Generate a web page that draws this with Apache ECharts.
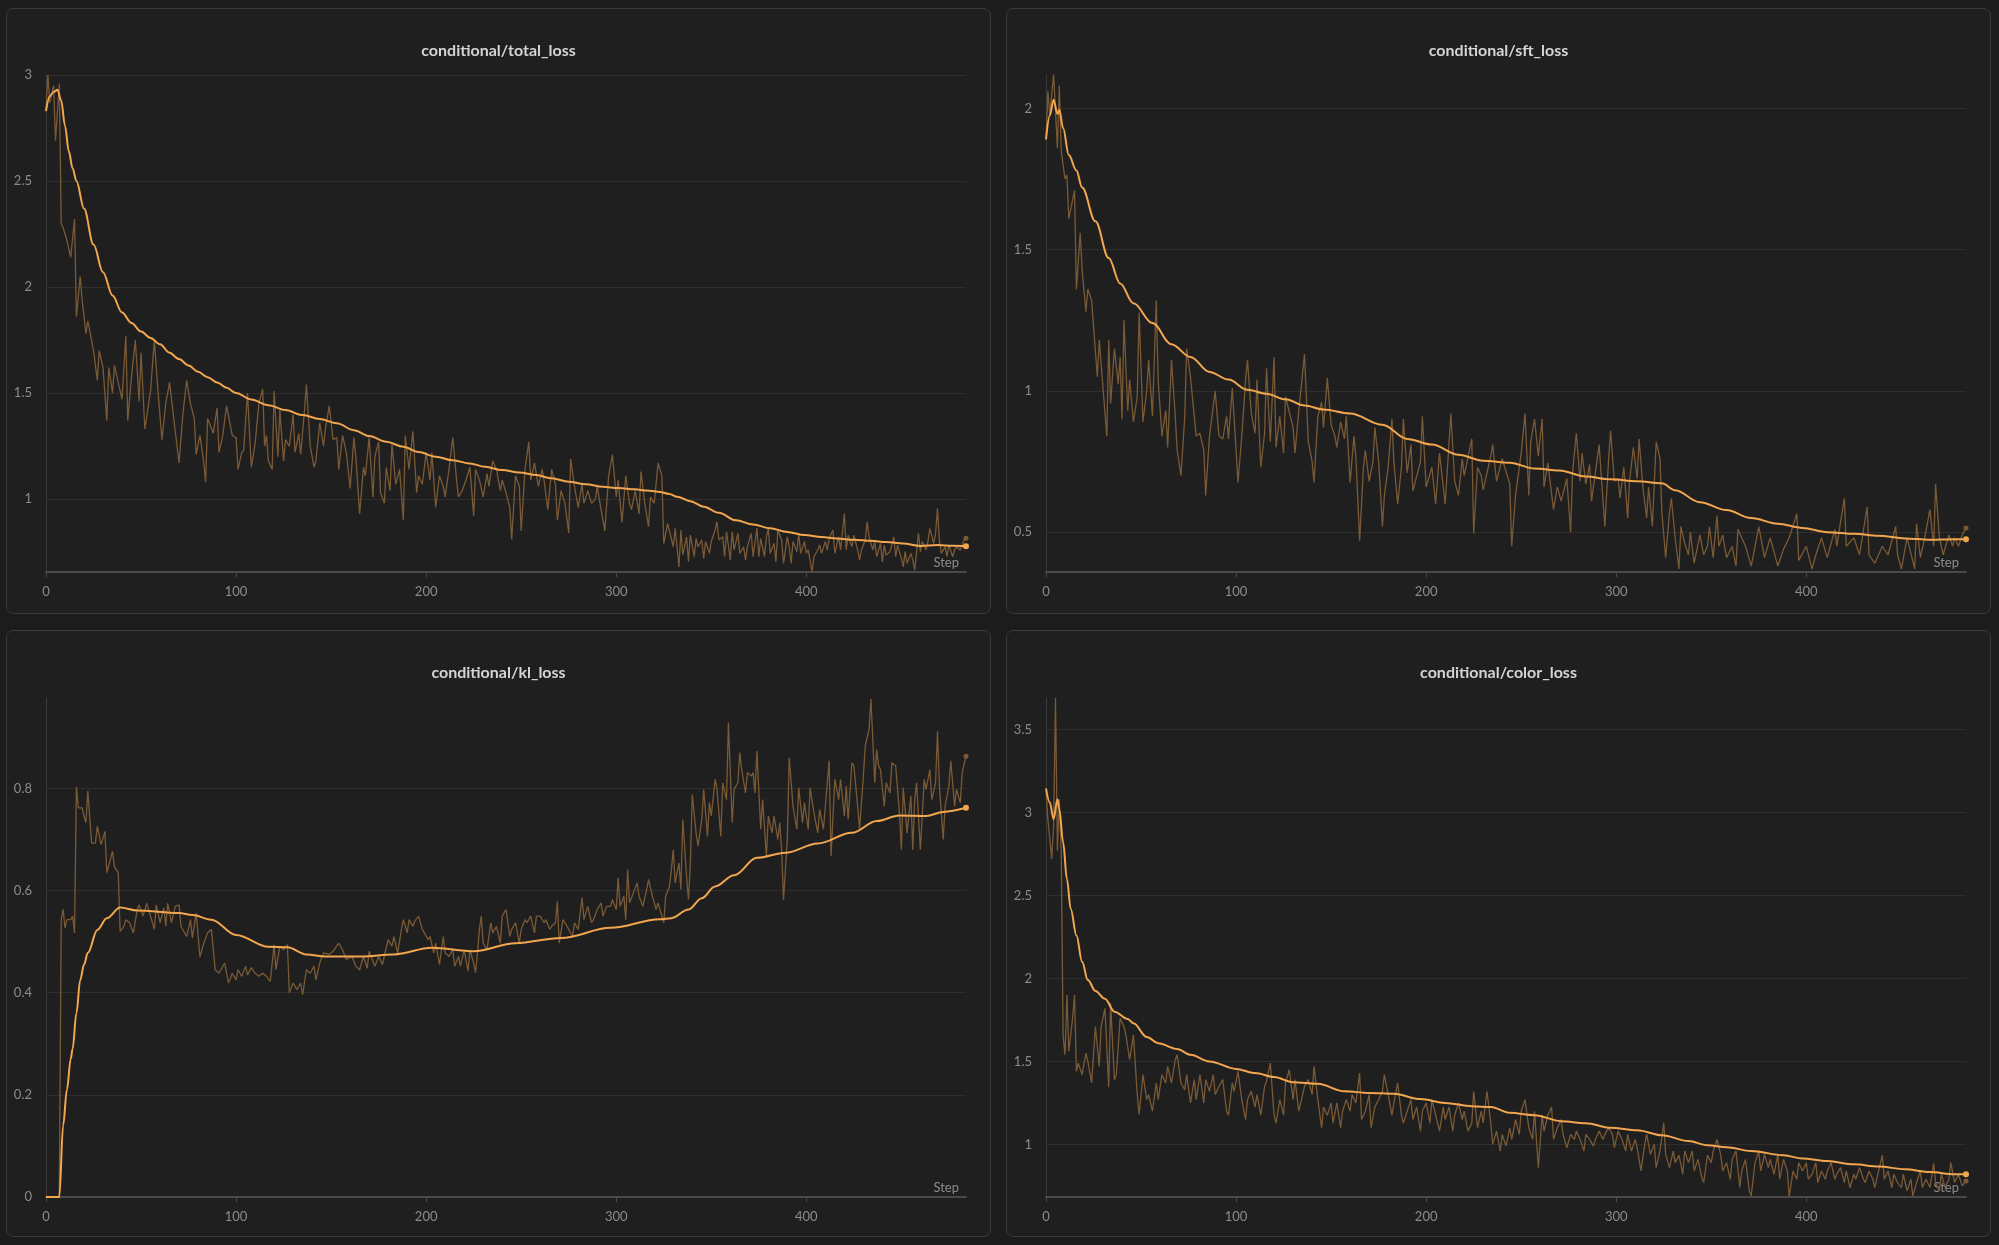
<!DOCTYPE html>
<html>
<head>
<meta charset="utf-8">
<script src="https://cdn.jsdelivr.net/npm/echarts@6/dist/echarts.min.js"></script>
<style>
  html, body { margin: 0; padding: 0; background: #1c1c1c; width: 1999px; height: 1245px; overflow: hidden; }
  .panel { position: absolute; box-sizing: border-box; border: 1px solid #3a3a3a; border-radius: 7px; background: #1f1f1f; }
</style>
</head>
<body>
<div id="p0" class="panel" style="left:6px;top:8px;width:985px;height:606px"></div>
<div id="p1" class="panel" style="left:1006px;top:8px;width:985px;height:606px"></div>
<div id="p2" class="panel" style="left:6px;top:630px;width:985px;height:607px"></div>
<div id="p3" class="panel" style="left:1006px;top:630px;width:985px;height:607px"></div>
<script>
// x axis ticks (Step)
const xTicks = [0, 100, 200, 300, 400]
const lastStep = 484

// conditional/total_loss  [step, value]
const totalRaw = [[0,2.84],[1,3.0],[2,2.87],[4,2.95],[5,2.69],[7,2.96],[8,2.30],[9,2.28],[11,2.22],[13,2.14],[15,2.32],[16,1.86],[18,2.05],[19,1.94],[21,1.78],[22,1.84],[25,1.70],[27,1.56],[28,1.70],[30,1.62],[32,1.37],[33,1.62],[35,1.50],[36,1.63],[38,1.55],[40,1.47],[42,1.77],[43,1.37],[45,1.58],[47,1.75],[49,1.46],[50,1.69],[52,1.33],[55,1.51],[57,1.75],[59,1.50],[61,1.28],[63,1.45],[65,1.55],[68,1.32],[70,1.17],[72,1.40],[74,1.56],[76,1.45],[78,1.38],[79,1.21],[81,1.30],[83,1.17],[84,1.08],[85,1.38],[88,1.31],[90,1.43],[91,1.22],[93,1.30],[95,1.44],[98,1.30],[100,1.29],[101,1.14],[103,1.22],[104,1.23],[106,1.50],[108,1.15],[110,1.26],[112,1.45],[114,1.52],[115,1.25],[116,1.30],[117,1.18],[119,1.14],[120,1.51],[122,1.20],[123,1.42],[125,1.18],[126,1.28],[128,1.25],[130,1.40],[131,1.22],[133,1.31],[134,1.21],[136,1.42],[137,1.54],[139,1.25],[141,1.15],[142,1.18],[144,1.36],[146,1.25],[147,1.33],[149,1.44],[151,1.28],[153,1.29],[154,1.14],[156,1.30],[158,1.22],[160,1.05],[162,1.29],[163,1.20],[165,0.93],[167,1.15],[168,1.11],[170,1.29],[172,1.01],[173,1.20],[175,1.27],[176,1.03],[178,0.98],[179,1.15],[181,1.04],[182,1.26],[184,1.07],[186,1.14],[188,0.90],[189,1.30],[191,1.14],[193,1.32],[195,1.03],[196,1.11],[198,1.07],[200,1.22],[202,1.09],[203,1.22],[205,0.96],[207,1.11],[209,1.06],[210,1.01],[212,1.14],[214,1.29],[216,1.09],[217,1.01],[219,1.04],[221,1.09],[223,1.15],[225,0.92],[226,1.14],[228,1.09],[230,1.01],[232,1.12],[233,1.06],[235,1.18],[237,1.14],[239,1.04],[240,1.09],[242,1.03],[244,0.96],[245,0.81],[247,1.11],[249,1.06],[250,0.85],[252,1.14],[254,1.27],[255,1.09],[257,1.17],[259,1.06],[261,1.14],[262,1.09],[264,0.95],[266,1.14],[268,1.07],[269,0.90],[271,1.04],[273,0.98],[275,0.84],[276,1.19],[278,1.06],[280,0.96],[282,1.07],[283,0.98],[285,1.04],[287,0.98],[289,1.00],[290,1.06],[292,0.95],[294,0.85],[296,1.11],[298,1.21],[300,1.01],[301,1.09],[303,0.89],[305,1.11],[307,0.98],[308,0.95],[310,1.04],[312,0.93],[313,1.13],[315,0.98],[317,0.87],[318,1.01],[320,0.98],[322,1.17],[324,1.11],[325,0.79],[327,0.885],[330,0.775],[331,0.862],[333,0.68],[334,0.854],[335,0.736],[337,0.822],[338,0.704],[339,0.83],[341,0.728],[342,0.814],[343,0.775],[345,0.807],[346,0.72],[347,0.80],[349,0.744],[350,0.80],[352,0.854],[353,0.893],[354,0.807],[356,0.822],[357,0.728],[358,0.846],[360,0.712],[361,0.846],[362,0.76],[364,0.838],[365,0.744],[367,0.775],[368,0.712],[369,0.775],[371,0.838],[372,0.728],[374,0.862],[375,0.728],[376,0.814],[378,0.728],[379,0.822],[380,0.862],[381,0.744],[383,0.791],[384,0.704],[385,0.854],[387,0.807],[388,0.697],[390,0.822],[391,0.775],[392,0.697],[393,0.80],[395,0.752],[396,0.838],[397,0.744],[399,0.80],[400,0.744],[401,0.76],[403,0.657],[404,0.728],[406,0.76],[407,0.783],[408,0.744],[410,0.80],[411,0.76],[412,0.814],[414,0.854],[415,0.744],[417,0.822],[418,0.76],[420,0.932],[421,0.76],[422,0.83],[424,0.775],[425,0.83],[427,0.76],[428,0.712],[429,0.76],[431,0.807],[432,0.893],[433,0.822],[435,0.76],[436,0.80],[437,0.728],[439,0.791],[440,0.704],[441,0.783],[442,0.736],[444,0.752],[446,0.822],[447,0.728],[448,0.783],[450,0.72],[451,0.68],[452,0.752],[453,0.697],[455,0.744],[456,0.712],[457,0.665],[459,0.838],[460,0.752],[461,0.80],[463,0.76],[464,0.80],[465,0.862],[467,0.791],[468,0.838],[469,0.956],[470,0.807],[471,0.744],[473,0.775],[474,0.728],[475,0.783],[477,0.728],[478,0.76],[479,0.775],[481,0.76],[482,0.783],[483,0.807],[484,0.815]]
const totalSmooth = [[0,2.83],[2,2.9],[4,2.92],[6,2.93],[8,2.88],[10,2.76],[12,2.64],[14,2.56],[16,2.5],[20,2.37],[25,2.2],[30,2.07],[35,1.96],[40,1.88],[45,1.83],[50,1.79],[55,1.76],[60,1.73],[65,1.69],[70,1.66],[75,1.63],[80,1.6],[85,1.575],[90,1.55],[95,1.525],[100,1.5],[108,1.47],[117,1.443],[126,1.42],[135,1.396],[144,1.378],[153,1.357],[162,1.325],[170,1.297],[179,1.27],[188,1.247],[196,1.222],[205,1.2],[214,1.183],[223,1.168],[231,1.152],[240,1.137],[249,1.125],[258,1.113],[266,1.098],[275,1.082],[284,1.07],[293,1.058],[301,1.052],[310,1.046],[316,1.04],[322,1.035],[328,1.024],[332,1.011],[339,0.99],[346,0.964],[354,0.935],[363,0.90],[372,0.88],[381,0.862],[390,0.845],[399,0.83],[408,0.821],[416,0.814],[425,0.808],[434,0.803],[442,0.797],[451,0.79],[460,0.779],[469,0.783],[477,0.78],[484,0.778]]

// conditional/sft_loss
const sftRaw = [[0,1.89],[1,2.06],[2,1.975],[4,2.12],[5,1.99],[6,1.86],[7,2.08],[8,1.85],[10,1.75],[11,1.765],[12,1.61],[15,1.71],[16,1.36],[18,1.56],[19,1.43],[21,1.28],[22,1.36],[24,1.32],[26,1.14],[27,1.05],[28,1.18],[30,1.01],[32,0.84],[33,1.18],[34,0.955],[36,1.15],[38,1.025],[39,1.12],[40,0.90],[41,1.25],[43,0.93],[44,1.04],[46,0.89],[48,0.98],[49,1.277],[51,0.89],[53,1.0],[54,1.11],[56,0.91],[58,1.32],[59,1.04],[61,0.84],[63,0.93],[64,0.80],[66,1.11],[68,0.91],[69,0.79],[71,0.70],[73,0.91],[74,1.15],[76,1.05],[78,0.91],[79,0.84],[81,0.85],[83,0.79],[84,0.63],[86,0.84],[89,1.0],[91,0.84],[93,0.83],[95,0.91],[96,0.83],[98,1.01],[100,0.79],[101,0.675],[103,0.84],[105,1.04],[106,1.11],[108,0.92],[110,0.85],[111,1.04],[113,0.73],[115,0.85],[116,1.08],[118,0.82],[120,1.12],[121,0.80],[123,0.91],[125,0.78],[126,0.98],[130,0.87],[131,0.78],[133,0.93],[136,1.13],[138,0.82],[140,0.75],[141,0.675],[143,0.91],[145,0.96],[146,0.87],[148,1.046],[150,0.88],[152,0.84],[153,0.80],[155,0.89],[157,0.83],[158,0.91],[160,0.675],[162,0.84],[163,0.77],[165,0.47],[167,0.73],[168,0.79],[170,0.68],[172,0.75],[173,0.87],[175,0.75],[177,0.52],[178,0.63],[180,0.73],[182,0.90],[183,0.75],[185,0.60],[187,0.73],[188,0.90],[190,0.71],[192,0.81],[193,0.645],[197,0.75],[198,0.91],[200,0.66],[203,0.73],[205,0.60],[207,0.78],[210,0.60],[213,0.92],[215,0.68],[217,0.63],[219,0.76],[220,0.70],[224,0.83],[225,0.495],[227,0.73],[229,0.70],[230,0.65],[234,0.77],[235,0.81],[237,0.68],[240,0.76],[244,0.67],[245,0.45],[247,0.63],[250,0.78],[252,0.92],[254,0.63],[255,0.82],[257,0.90],[259,0.77],[261,0.90],[262,0.66],[264,0.745],[267,0.58],[269,0.66],[271,0.61],[274,0.69],[276,0.50],[277,0.71],[279,0.85],[281,0.68],[282,0.78],[284,0.67],[286,0.74],[287,0.61],[289,0.71],[291,0.81],[292,0.71],[294,0.52],[296,0.76],[297,0.86],[299,0.68],[301,0.69],[302,0.62],[304,0.73],[306,0.55],[307,0.68],[309,0.80],[311,0.69],[312,0.83],[314,0.66],[316,0.55],[317,0.66],[319,0.52],[321,0.82],[323,0.76],[324,0.57],[326,0.41],[328,0.57],[329,0.62],[331,0.48],[333,0.37],[334,0.52],[336,0.46],[338,0.42],[339,0.50],[341,0.39],[344,0.49],[346,0.42],[348,0.45],[349,0.52],[351,0.41],[353,0.56],[354,0.45],[356,0.49],[358,0.41],[361,0.45],[363,0.38],[364,0.51],[368,0.45],[371,0.38],[375,0.52],[378,0.41],[381,0.48],[385,0.38],[388,0.44],[391,0.48],[395,0.565],[396,0.40],[400,0.45],[403,0.37],[405,0.42],[408,0.48],[411,0.41],[415,0.51],[416,0.45],[420,0.62],[421,0.45],[425,0.48],[428,0.42],[432,0.59],[433,0.42],[436,0.39],[440,0.45],[443,0.42],[447,0.52],[448,0.42],[450,0.37],[453,0.48],[457,0.37],[458,0.53],[460,0.41],[462,0.47],[465,0.58],[467,0.45],[468,0.67],[470,0.48],[472,0.42],[475,0.49],[477,0.45],[478,0.48],[480,0.45],[482,0.49],[484,0.515]]
const sftSmooth = [[0,1.89],[2,1.975],[4,2.03],[6,1.98],[7,1.995],[9,1.93],[12,1.835],[16,1.78],[19,1.72],[26,1.6],[33,1.47],[39,1.38],[46,1.31],[56,1.24],[66,1.165],[76,1.12],[86,1.067],[96,1.04],[106,1.004],[116,0.99],[126,0.97],[136,0.948],[146,0.934],[160,0.92],[177,0.88],[190,0.83],[203,0.81],[217,0.774],[230,0.753],[244,0.746],[257,0.725],[270,0.718],[284,0.697],[297,0.687],[311,0.68],[324,0.673],[331,0.648],[344,0.606],[358,0.578],[371,0.55],[385,0.53],[398,0.515],[411,0.50],[425,0.494],[438,0.487],[452,0.478],[465,0.473],[478,0.475],[484,0.475]]

// conditional/kl_loss
const klRaw = [[0,0],[7,0],[8,0.543],[9,0.563],[10,0.527],[11,0.543],[13,0.543],[14,0.55],[15,0.517],[16,0.803],[17,0.762],[19,0.762],[20,0.746],[21,0.733],[22,0.795],[24,0.693],[26,0.693],[27,0.726],[29,0.69],[31,0.716],[32,0.635],[35,0.677],[36,0.647],[38,0.635],[39,0.52],[41,0.53],[42,0.543],[44,0.537],[46,0.517],[48,0.563],[49,0.572],[51,0.55],[53,0.575],[55,0.55],[57,0.524],[58,0.572],[60,0.537],[62,0.566],[63,0.53],[64,0.575],[66,0.537],[68,0.569],[70,0.572],[71,0.53],[74,0.51],[76,0.543],[77,0.507],[79,0.556],[81,0.47],[83,0.497],[85,0.517],[87,0.524],[89,0.445],[91,0.438],[92,0.445],[94,0.458],[96,0.419],[98,0.438],[100,0.425],[101,0.445],[103,0.432],[105,0.452],[106,0.435],[108,0.449],[110,0.438],[112,0.432],[114,0.438],[116,0.432],[118,0.422],[120,0.494],[121,0.445],[123,0.491],[125,0.484],[127,0.494],[128,0.40],[130,0.419],[132,0.406],[134,0.419],[135,0.396],[137,0.445],[139,0.438],[141,0.452],[142,0.425],[144,0.458],[146,0.478],[149,0.475],[151,0.481],[154,0.497],[156,0.484],[158,0.465],[161,0.471],[163,0.452],[165,0.445],[167,0.471],[169,0.448],[170,0.481],[173,0.452],[175,0.471],[177,0.455],[179,0.488],[180,0.504],[182,0.491],[183,0.51],[185,0.478],[187,0.524],[188,0.543],[190,0.517],[191,0.543],[193,0.53],[194,0.54],[196,0.55],[198,0.524],[199,0.527],[201,0.504],[202,0.51],[204,0.478],[205,0.497],[207,0.455],[209,0.51],[210,0.478],[212,0.471],[214,0.484],[215,0.452],[217,0.471],[218,0.452],[220,0.484],[222,0.442],[223,0.484],[225,0.458],[226,0.439],[227,0.478],[228,0.524],[229,0.55],[230,0.497],[232,0.484],[234,0.537],[235,0.517],[237,0.53],[239,0.497],[240,0.55],[242,0.563],[244,0.51],[245,0.524],[247,0.537],[249,0.497],[250,0.524],[252,0.543],[253,0.537],[255,0.55],[257,0.517],[258,0.55],[260,0.55],[262,0.537],[263,0.543],[265,0.524],[266,0.53],[268,0.537],[269,0.579],[270,0.497],[272,0.543],[273,0.537],[275,0.524],[277,0.51],[278,0.537],[280,0.524],[282,0.586],[283,0.543],[285,0.569],[287,0.537],[288,0.543],[290,0.563],[292,0.576],[293,0.55],[295,0.569],[297,0.569],[298,0.582],[300,0.563],[301,0.625],[302,0.569],[304,0.589],[305,0.543],[306,0.641],[307,0.576],[309,0.595],[311,0.615],[312,0.589],[314,0.569],[316,0.602],[317,0.622],[319,0.589],[321,0.563],[322,0.576],[324,0.55],[325,0.537],[326,0.589],[328,0.608],[329,0.641],[330,0.68],[331,0.615],[333,0.654],[334,0.602],[335,0.739],[337,0.628],[338,0.582],[339,0.654],[340,0.788],[342,0.713],[343,0.687],[345,0.739],[346,0.798],[348,0.706],[349,0.772],[350,0.746],[352,0.818],[353,0.798],[355,0.706],[356,0.811],[358,0.778],[359,0.929],[361,0.733],[362,0.798],[364,0.811],[365,0.87],[366,0.837],[368,0.791],[369,0.831],[371,0.824],[372,0.831],[373,0.791],[374,0.873],[376,0.72],[377,0.778],[379,0.667],[380,0.746],[382,0.713],[383,0.746],[385,0.70],[386,0.733],[387,0.68],[388,0.582],[390,0.70],[391,0.86],[393,0.765],[395,0.72],[396,0.801],[398,0.733],[399,0.772],[401,0.72],[402,0.801],[404,0.752],[406,0.713],[407,0.759],[409,0.72],[410,0.765],[412,0.854],[413,0.667],[415,0.818],[417,0.778],[418,0.818],[420,0.746],[421,0.805],[422,0.739],[424,0.85],[425,0.844],[427,0.765],[428,0.72],[430,0.824],[431,0.883],[433,0.916],[434,0.975],[436,0.811],[437,0.876],[438,0.844],[439,0.837],[441,0.765],[442,0.811],[444,0.791],[445,0.85],[447,0.844],[449,0.752],[450,0.68],[451,0.801],[453,0.713],[455,0.785],[456,0.68],[457,0.778],[458,0.811],[460,0.68],[462,0.818],[463,0.798],[465,0.837],[466,0.778],[468,0.811],[469,0.912],[470,0.805],[472,0.70],[473,0.765],[475,0.805],[476,0.854],[478,0.765],[479,0.798],[481,0.772],[482,0.831],[484,0.863]]
const klSmooth = [[0,0],[7,0],[9,0.14],[11,0.21],[13,0.27],[14,0.29],[16,0.36],[18,0.425],[20,0.455],[22,0.478],[27,0.523],[32,0.546],[39,0.567],[48,0.561],[70,0.556],[77,0.552],[87,0.543],[100,0.513],[117,0.49],[127,0.489],[137,0.475],[147,0.471],[166,0.471],[183,0.475],[203,0.488],[225,0.481],[247,0.497],[271,0.507],[297,0.527],[323,0.544],[329,0.546],[338,0.563],[345,0.585],[352,0.608],[362,0.63],[374,0.664],[389,0.674],[406,0.692],[424,0.713],[437,0.736],[449,0.747],[463,0.746],[472,0.754],[484,0.762]]

// conditional/color_loss
const colorRaw = [[0,3.13],[1,2.96],[3,2.72],[4,2.92],[5,3.69],[6,2.77],[7,3.08],[8,2.77],[9,1.65],[10,1.54],[11,1.9],[12,1.56],[14,1.76],[15,1.9],[16,1.44],[17,1.49],[19,1.42],[21,1.55],[22,1.50],[24,1.37],[26,1.71],[28,1.47],[29,1.71],[31,1.82],[33,1.345],[34,1.85],[36,1.39],[37,1.42],[39,1.76],[41,1.71],[42,1.66],[44,1.51],[46,1.66],[48,1.30],[49,1.18],[51,1.42],[53,1.27],[54,1.30],[56,1.2],[58,1.37],[59,1.27],[61,1.42],[63,1.37],[64,1.47],[66,1.37],[68,1.51],[69,1.54],[71,1.37],[73,1.33],[74,1.42],[76,1.25],[78,1.39],[79,1.27],[81,1.42],[83,1.25],[84,1.39],[86,1.32],[88,1.42],[89,1.30],[91,1.35],[93,1.39],[95,1.2],[96,1.176],[98,1.37],[99,1.32],[101,1.44],[103,1.27],[105,1.15],[106,1.27],[108,1.32],[110,1.225],[111,1.30],[113,1.176],[115,1.35],[116,1.38],[118,1.49],[120,1.176],[121,1.128],[123,1.27],[125,1.176],[126,1.37],[128,1.45],[130,1.27],[131,1.39],[133,1.2],[135,1.30],[136,1.35],[138,1.39],[140,1.30],[141,1.47],[143,1.27],[145,1.10],[146,1.225],[148,1.176],[150,1.25],[151,1.128],[153,1.25],[155,1.10],[156,1.2],[158,1.27],[160,1.2],[161,1.30],[163,1.25],[165,1.43],[166,1.15],[168,1.2],[170,1.3],[171,1.10],[173,1.225],[175,1.27],[177,1.32],[178,1.42],[180,1.30],[182,1.176],[183,1.25],[185,1.37],[187,1.176],[188,1.128],[190,1.2],[192,1.27],[193,1.15],[195,1.225],[197,1.08],[198,1.2],[200,1.25],[202,1.128],[203,1.27],[205,1.176],[207,1.08],[209,1.225],[210,1.15],[212,1.225],[214,1.08],[215,1.176],[217,1.25],[219,1.15],[220,1.2],[222,1.08],[224,1.128],[225,1.32],[227,1.10],[229,1.2],[230,1.13],[232,1.32],[234,1.128],[235,1.0],[237,1.08],[239,0.96],[240,1.06],[242,0.99],[244,1.10],[245,1.03],[247,1.15],[249,1.06],[250,1.2],[252,1.27],[254,1.10],[256,1.03],[257,1.2],[259,0.86],[261,1.176],[262,1.08],[264,1.176],[266,1.225],[267,1.03],[269,1.10],[271,1.15],[272,1.06],[274,0.98],[276,1.06],[278,1.03],[279,1.08],[281,1.03],[283,0.96],[284,1.06],[286,1.03],[288,0.99],[289,1.03],[291,1.08],[293,1.03],[294,1.06],[296,1.10],[298,1.06],[299,0.98],[301,1.08],[303,1.03],[305,0.96],[306,1.06],[308,0.96],[310,1.03],[311,0.98],[313,0.84],[315,1.0],[316,1.06],[318,0.94],[320,1.0],[321,0.86],[323,0.96],[325,1.13],[326,0.94],[328,0.86],[330,0.96],[331,0.89],[333,0.935],[335,0.82],[336,0.96],[338,0.89],[340,0.96],[341,0.84],[343,0.91],[345,0.80],[346,0.77],[348,0.935],[350,0.89],[351,0.96],[353,1.03],[355,0.935],[356,0.84],[358,0.89],[360,0.79],[361,0.91],[363,0.96],[365,0.74],[366,0.84],[368,0.91],[370,0.72],[371,0.69],[373,0.89],[375,0.96],[376,0.84],[378,0.94],[380,0.86],[381,0.91],[383,0.82],[385,0.94],[386,0.79],[388,0.91],[390,0.84],[391,0.685],[393,0.84],[395,0.79],[396,0.89],[398,0.84],[400,0.89],[401,0.79],[403,0.82],[405,0.89],[406,0.77],[408,0.84],[410,0.79],[411,0.84],[413,0.89],[415,0.79],[416,0.82],[418,0.86],[420,0.77],[421,0.84],[423,0.74],[425,0.82],[426,0.79],[428,0.86],[430,0.79],[431,0.77],[433,0.84],[435,0.79],[436,0.74],[438,0.84],[440,0.935],[441,0.79],[443,0.84],[445,0.74],[446,0.82],[448,0.77],[450,0.74],[451,0.82],[453,0.72],[455,0.79],[456,0.69],[458,0.77],[460,0.84],[461,0.74],[463,0.79],[465,0.74],[467,0.886],[468,0.77],[470,0.72],[471,0.82],[473,0.74],[475,0.79],[476,0.89],[478,0.77],[480,0.82],[482,0.75],[484,0.78]]
const colorSmooth = [[0,3.145],[2,3.06],[4,2.96],[6,3.08],[7,3.02],[9,2.82],[11,2.6],[13,2.42],[16,2.26],[19,2.1],[22,1.99],[26,1.925],[31,1.877],[36,1.80],[43,1.756],[46,1.73],[53,1.647],[59,1.61],[69,1.575],[76,1.54],[86,1.50],[100,1.455],[110,1.43],[120,1.406],[130,1.375],[143,1.365],[157,1.32],[170,1.31],[183,1.305],[197,1.273],[210,1.25],[224,1.23],[234,1.225],[244,1.19],[257,1.176],[271,1.14],[284,1.128],[297,1.10],[311,1.085],[324,1.055],[338,1.02],[348,0.995],[358,0.983],[371,0.96],[388,0.935],[398,0.915],[411,0.9],[425,0.88],[438,0.867],[452,0.85],[465,0.833],[478,0.82],[484,0.82]]

const panels = [
  { id: 'p0', title: 'conditional/total_loss', raw: totalRaw, smooth: totalSmooth, min: 0.656, max: 3, step: 0.5, minTick: false, maxTick: true, top: 66, bottom: 41 },
  { id: 'p1', title: 'conditional/sft_loss', raw: sftRaw, smooth: sftSmooth, min: 0.359, max: 2.118, step: 0.5, minTick: false, maxTick: false, top: 66, bottom: 41 },
  { id: 'p2', title: 'conditional/kl_loss', raw: klRaw, smooth: klSmooth, min: 0, max: 0.977, step: 0.2, minTick: true, maxTick: false, top: 67, bottom: 39 },
  { id: 'p3', title: 'conditional/color_loss', raw: colorRaw, smooth: colorSmooth, min: 0.683, max: 3.69, step: 0.5, minTick: false, maxTick: false, top: 67, bottom: 39 }
]

const FONT = 'Lato, "Noto Sans", sans-serif'
const LABEL = '#8c8c8c'

// 只在最后一个点画圆点
const endDot = (size, n) => (v, p) => (p.dataIndex === n - 1 ? size : 0)

panels.forEach(cfg => {
  const chart = echarts.init(document.getElementById(cfg.id))
  chart.setOption({
    backgroundColor: 'transparent',
    animation: false,
    title: {
      text: cfg.title,
      left: 'center',
      top: 34,
      padding: 0,
      textStyle: { color: '#d4d4d4', fontSize: 16, fontWeight: 'bold', fontFamily: FONT }
    },
    grid: { left: 39, right: 24, top: cfg.top, bottom: cfg.bottom, containLabel: false, outerBoundsMode: 'none' },
    xAxis: {
      type: 'value',
      min: 0,
      max: lastStep,
      interval: 100,
      name: 'Step',
      nameLocation: 'end',
      nameGap: -7,
      nameTextStyle: { color: LABEL, fontSize: 13, fontFamily: FONT, align: 'right', verticalAlign: 'bottom', padding: [0, 0, 3, 0] },
      axisLine: { show: true, onZero: false, lineStyle: { color: '#4a4a4a', width: 2 } },
      axisTick: { show: true, length: 5, customValues: xTicks, lineStyle: { color: '#4a4a4a' } },
      axisLabel: { color: LABEL, fontSize: 13, fontFamily: FONT, margin: 13, customValues: xTicks },
      splitLine: { show: false }
    },
    yAxis: {
      type: 'value',
      min: cfg.min,
      max: cfg.max,
      minInterval: cfg.step,
      maxInterval: cfg.step,
      axisLine: { show: true, lineStyle: { color: '#3a3a3a', width: 1 } },
      axisTick: { show: false },
      axisLabel: { color: LABEL, fontSize: 13, fontFamily: FONT, margin: 14, showMinLabel: cfg.minTick, showMaxLabel: cfg.maxTick },
      splitLine: { show: true, showMinLine: false, showMaxLine: cfg.maxTick, lineStyle: { color: '#2e2e2e', width: 1 } }
    },
    series: [
      {
        type: 'line',
        data: cfg.raw,
        symbol: 'circle',
        symbolSize: endDot(5, cfg.raw.length),
        showSymbol: true,
        lineStyle: { color: '#7a5a36', width: 1.3 },
        itemStyle: { color: '#7a5a36' },
        silent: true,
        z: 2
      },
      {
        type: 'line',
        data: cfg.smooth,
        smooth: 0.35,
        smoothMonotone: 'x',
        symbol: 'circle',
        symbolSize: endDot(6, cfg.smooth.length),
        showSymbol: true,
        lineStyle: { color: '#f2a64e', width: 2 },
        itemStyle: { color: '#f2a64e' },
        silent: true,
        z: 3
      }
    ]
  })
})
</script>
</body>
</html>
